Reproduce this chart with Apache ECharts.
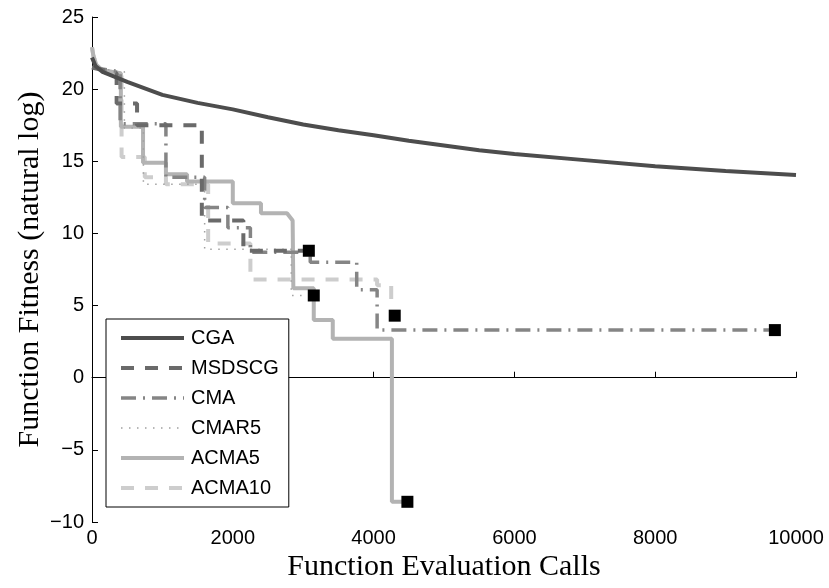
<!DOCTYPE html>
<html>
<head>
<meta charset="utf-8">
<script src="https://cdn.jsdelivr.net/npm/echarts@6/dist/echarts.min.js"></script>
<style>html,body{margin:0;padding:0;background:#fff}#c{width:829px;height:588px}</style>
</head>
<body>
<div id="c"></div>
<script>
// ---- data (x = function evaluation calls, y = fitness, natural log) ----
const seriesNames = ["CGA", "MSDSCG", "CMA", "CMAR5", "ACMA5", "ACMA10"];
const xTicks = [0, 2000, 4000, 6000, 8000, 10000];
const yTicks = [-10, -5, 0, 5, 10, 15, 20, 25];

const CGA = [[0,22.2],[50,21.6],[150,21.2],[300,20.9],[500,20.5],[1000,19.6],[1500,19.05],[2000,18.6],[2500,18.05],[3000,17.55],[3500,17.15],[4000,16.8],[4500,16.42],[5000,16.1],[5500,15.77],[6000,15.5],[7000,15.08],[8000,14.65],[9000,14.32],[10000,14.05]];
const MSDSCG = [[0,21.5],[350,21.1],[350,19.0],[640,19.0],[640,17.5],[1560,17.5],[1560,10.9],[2150,10.9],[2150,8.8],[3080,8.8]];
const CMA = [[0,21.5],[400,21.2],[400,17.6],[1050,17.6],[1050,13.9],[1600,13.9],[1600,11.8],[1930,11.8],[1930,10.4],[2250,10.4],[2250,8.7],[3100,8.7],[3100,8.0],[3760,8.0],[3760,6.1],[4050,6.1],[4050,3.3],[9700,3.3]];
const CMAR5 = [[0,21.5],[460,21.2],[460,17.3],[730,17.3],[730,13.4],[1600,13.4],[1600,8.9],[2830,8.9],[2830,5.7],[3150,5.7]];
const ACMA5 = [[0,22.9],[20,22.3],[60,21.7],[150,21.3],[410,21.1],[410,17.4],[725,17.4],[725,14.9],[1050,14.9],[1050,14.1],[1350,14.1],[1350,13.6],[2000,13.6],[2000,12.1],[2400,12.1],[2400,11.4],[2770,11.4],[2850,10.9],[2860,6.2],[3150,6.2],[3150,4.0],[3420,4.0],[3420,2.7],[4260,2.7],[4260,-8.6],[4480,-8.6]];
const ACMA10 = [[0,22.9],[20,22.3],[60,21.7],[150,21.3],[420,21.1],[420,15.3],[750,15.3],[750,13.9],[1050,13.9],[1050,13.4],[1650,13.4],[1650,9.3],[2250,9.3],[2250,6.8],[4050,6.8],[4050,6.4],[4250,6.4],[4250,4.3],[4300,4.3]];

// ---- styles ----
const styles = {
  CGA:    {color:'#4d4d4d', width:4,   type:'solid'},
  MSDSCG: {color:'#6a6a6a', width:4,   type:[13,11]},
  CMA:    {color:'#858585', width:3.5, type:[15,7,2,7]},
  CMAR5:  {color:'#a0a0a0', width:1.5, type:[1.5,6.5]},
  ACMA5:  {color:'#b3b3b3', width:4,   type:'solid'},
  ACMA10: {color:'#cdcdcd', width:4,   type:[13,11]}
};
const dataMap = {CGA, MSDSCG, CMA, CMAR5, ACMA5, ACMA10};
const withMarkers = ["MSDSCG", "CMA", "CMAR5", "ACMA5", "ACMA10"];

const series = seriesNames.map((n, i) => ({
  name: n, type: 'line', data: dataMap[n], symbol: 'none', smooth: false,
  lineStyle: {color: styles[n].color, width: styles[n].width, type: styles[n].type, cap: 'butt'},
  itemStyle: {color: styles[n].color},
  z: 2 + (seriesNames.length - i)
}));
series.push({
  name: 'ends', type: 'scatter', symbol: 'rect', symbolSize: 12,
  data: withMarkers.map(n => dataMap[n][dataMap[n].length - 1]),
  itemStyle: {color: '#000', opacity: 1}, z: 20, silent: true
});

const chart = echarts.init(document.getElementById('c'), null, {renderer: 'canvas'});
const tickFont = {fontFamily: 'Liberation Sans, Arial, sans-serif', fontSize: 20, color: '#000'};
chart.setOption({
  animation: false,
  backgroundColor: '#fff',
  grid: {left: 92, right: 33, top: 17, bottom: 66, containLabel: false},
  xAxis: {
    type: 'value', min: xTicks[0], max: xTicks[xTicks.length-1], interval: 2000,
    name: 'Function Evaluation Calls', nameLocation: 'middle', nameGap: 30, nameMoveOverlap: false,
    nameTextStyle: {fontFamily: 'Liberation Serif, Times New Roman, serif', fontSize: 30, color: '#000'},
    axisLine: {show: true, lineStyle: {color: '#000', width: 1}},
    axisTick: {show: true, inside: true, length: 6, lineStyle: {color: '#000'}},
    axisLabel: Object.assign({margin: 6, formatter: v => String(v)}, tickFont),
    splitLine: {show: false}
  },
  yAxis: {
    type: 'value', min: yTicks[0], max: yTicks[yTicks.length-1], interval: 5,
    name: 'Function Fitness (natural log)', nameLocation: 'middle', nameGap: 47, nameMoveOverlap: false,
    nameTextStyle: {fontFamily: 'Liberation Serif, Times New Roman, serif', fontSize: 30, color: '#000'},
    axisLine: {show: true, onZero: false, lineStyle: {color: '#000', width: 1}},
    axisTick: {show: true, inside: true, length: 6, lineStyle: {color: '#000'}},
    axisLabel: Object.assign({margin: 8, formatter: v => String(v).replace('-', '\u2212')}, tickFont),
    splitLine: {show: false}
  },
  legend: {
    data: seriesNames, orient: 'vertical', left: 106, top: 319,
    backgroundColor: '#fff', borderColor: '#000', borderWidth: 1,
    padding: [9, 10, 9, 13], itemWidth: 63, itemHeight: 14, itemGap: 10,
    itemStyle: {opacity: 0},
    lineStyle: {width: 'inherit', type: 'inherit', color: 'inherit'},
    textStyle: {fontFamily: 'Liberation Sans, Arial, sans-serif', fontSize: 20, lineHeight: 20, color: '#000', padding: [0,0,0,2]},
    selectedMode: false
  },
  series: series
});
</script>
</body>
</html>
